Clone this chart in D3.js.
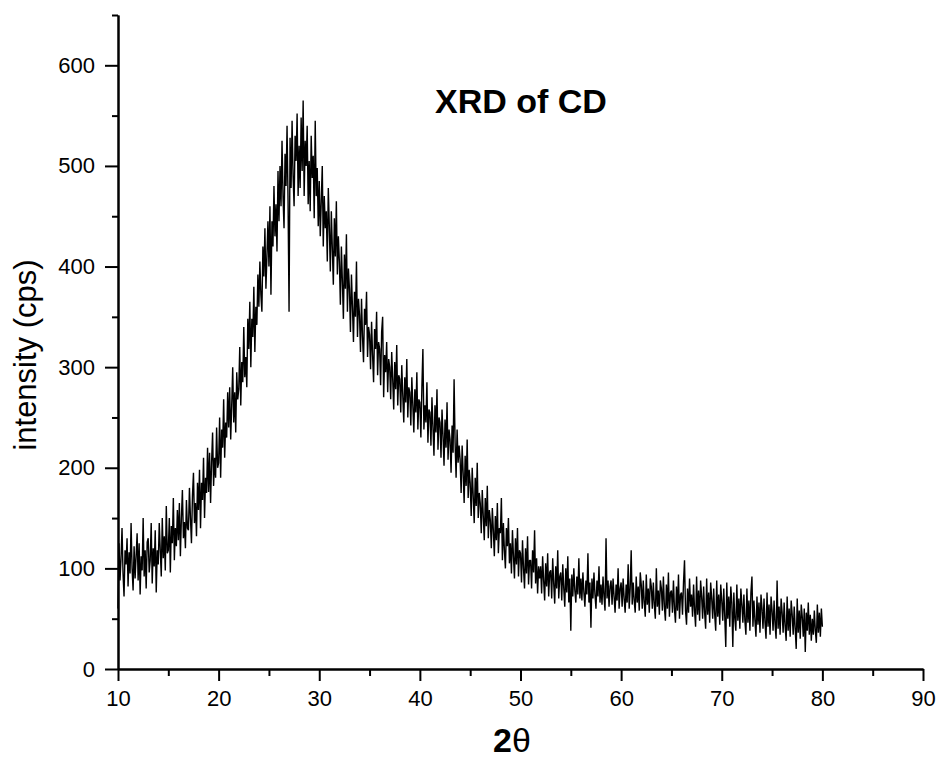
<!DOCTYPE html>
<meta charset="utf-8">
<script src="https://d3js.org/d3.v7.min.js"></script>
<style>
  body { margin: 0; background: #fff; }
  text { font-family: Arial, "Liberation Sans", sans-serif; }
</style>
<div id="chart"></div>
<script>

    // 2theta scan: first angle and step (deg)
    const twoThetaStart = 10,
        twoThetaStep = 0.1;

    // intensity (cps), one row per degree
    const intensity = [
        60, 125, 88, 110, 140, 95, 72, 118, 104, 130,
        82, 116, 95, 145, 100, 78, 122, 90, 112, 135,
        88, 125, 74, 112, 98, 150, 92, 118, 80, 126,
        130, 96, 108, 145, 85, 120, 102, 138, 76, 118,
        104, 145, 118, 92, 150, 110, 132, 98, 162, 115,
        118, 150, 96, 142, 125, 170, 108, 140, 122, 158,
        128, 165, 112, 150, 178, 130, 146, 120, 168, 140,
        138, 180, 150, 125, 172, 195, 145, 165, 132, 185,
        158, 198, 140, 185, 168, 210, 150, 190, 175, 220,
        176, 215, 165, 205, 235, 182, 210, 190, 240, 200,
        205, 250, 190, 238, 220, 268, 210, 245, 230, 275,
        240, 280, 228, 262, 300, 245, 275, 235, 295, 268,
        278, 320, 262, 305, 285, 340, 290, 310, 280, 348,
        318, 365, 300, 348, 330, 380, 315, 360, 342, 392,
        360, 405, 372, 355, 420, 390, 438, 378, 410, 445,
        400, 460, 372, 445, 420, 480, 430, 462, 415, 495,
        445, 500, 460, 525, 470, 438, 512, 480, 540, 465,
        355, 528, 478, 545, 490, 460, 530, 505, 552, 470,
        520, 478, 548, 495, 565, 470, 525, 500, 540, 462,
        505, 455, 530, 488, 510, 448, 545, 470, 498, 440,
        485, 430, 465, 500, 420, 470, 438, 455, 405, 478,
        440, 395, 455, 418, 382, 448, 410, 465, 392, 430,
        405, 362, 420, 385, 348, 412, 378, 432, 355, 398,
        378, 335, 392, 360, 325, 375, 350, 405, 330, 368,
        352, 315, 368, 330, 305, 358, 342, 375, 310, 340,
        332, 298, 345, 312, 285, 338, 318, 355, 292, 325,
        318, 282, 335, 350, 270, 312, 295, 325, 275, 308,
        300, 268, 315, 288, 258, 305, 278, 322, 262, 292,
        288, 255, 302, 272, 245, 290, 265, 308, 250, 280,
        275, 242, 290, 262, 235, 278, 255, 295, 238, 268,
        265, 230, 280, 318, 238, 262, 245, 285, 225, 258,
        255, 222, 270, 240, 212, 262, 235, 278, 218, 250,
        245, 210, 258, 232, 202, 248, 220, 265, 208, 238,
        228, 195, 242, 215, 288, 225, 190, 238, 205, 222,
        208, 175, 222, 195, 165, 212, 182, 228, 170, 198,
        185, 152, 200, 172, 145, 190, 162, 205, 150, 175,
        165, 135, 178, 152, 128, 170, 142, 182, 130, 158,
        148, 120, 160, 138, 112, 152, 128, 165, 115, 140,
        135, 170, 108, 145, 118, 100, 140, 122, 150, 105,
        125, 95, 138, 112, 90, 130, 104, 140, 92, 118,
        115, 86, 128, 100, 80, 120, 95, 132, 84, 108,
        108, 80, 118, 96, 138, 85, 110, 75, 102, 90,
        102, 75, 112, 88, 68, 105, 82, 115, 72, 96,
        98, 70, 110, 85, 65, 102, 80, 118, 70, 92,
        96, 68, 104, 80, 62, 100, 76, 112, 66, 90,
        38, 94, 72, 100, 78, 66, 92, 74, 110, 70,
        90, 68, 96, 76, 62, 88, 74, 115, 66, 86,
        41, 90, 70, 96, 74, 60, 88, 72, 102, 66,
        84, 64, 92, 72, 58, 130, 70, 88, 62, 82,
        88, 64, 90, 72, 56, 84, 68, 100, 60, 80,
        86, 62, 90, 70, 56, 84, 66, 104, 60, 80,
        118, 64, 86, 68, 56, 92, 66, 82, 58, 96,
        84, 60, 88, 66, 52, 94, 64, 80, 56, 90,
        82, 60, 86, 64, 50, 100, 62, 78, 54, 88,
        80, 58, 92, 62, 48, 84, 60, 96, 52, 76,
        78, 56, 88, 60, 46, 82, 58, 94, 50, 74,
        76, 54, 86, 108, 58, 44, 80, 56, 90, 62,
        74, 52, 84, 58, 42, 92, 54, 78, 48, 88,
        72, 50, 82, 56, 40, 90, 54, 76, 46, 86,
        70, 50, 80, 54, 38, 88, 52, 74, 44, 84,
        68, 48, 80, 52, 22, 86, 50, 72, 42, 82,
        66, 22, 76, 50, 38, 84, 48, 70, 40, 80,
        64, 46, 74, 48, 34, 80, 46, 68, 38, 76,
        92, 42, 68, 48, 32, 72, 44, 66, 36, 74,
        60, 40, 70, 46, 30, 76, 42, 64, 34, 72,
        58, 38, 68, 44, 30, 88, 40, 62, 34, 70,
        56, 36, 66, 42, 28, 72, 38, 60, 32, 68,
        54, 34, 62, 40, 20, 70, 36, 58, 30, 64,
        52, 32, 60, 17, 56, 38, 66, 34, 54, 28,
        50, 34, 58, 38, 26, 64, 36, 56, 32, 60,
        42
    ];

    const xTicks = [10, 20, 30, 40, 50, 60, 70, 80, 90];
    const xMinorTicks = [15, 25, 35, 45, 55, 65, 75, 85];
    const yTicks = [0, 100, 200, 300, 400, 500, 600];
    const yMinorTicks = [50, 150, 250, 350, 450, 550, 650];

    const width = 941, height = 761;
    const margin = { top: 15, right: 18, bottom: 92, left: 118 };

    const svg = d3.select("#chart")
        .append("svg")
        .attr("width", width)
        .attr("height", height);

    const x = d3.scaleLinear()
        .domain([10, 90])
        .range([margin.left, width - margin.right]);

    const y = d3.scaleLinear()
        .domain([0, 650])
        .range([height - margin.bottom, margin.top]);

    const data = intensity.map((v, i) => ({ t: twoThetaStart + i * twoThetaStep, v: v }));

    // the scan
    const line = d3.line()
        .x(d => x(d.t))
        .y(d => y(d.v));

    svg.append("path")
        .datum(data)
        .attr("fill", "none")
        .attr("stroke", "#000")
        .attr("stroke-width", 1.4)
        .attr("stroke-linejoin", "bevel")
        .attr("d", line);

    // X axis, major + minor ticks
    const xAxisG = svg.append("g")
        .attr("transform", "translate(0," + y(0) + ")");
    xAxisG.append("g")
        .call(d3.axisBottom(x).tickValues(xMinorTicks).tickSize(7).tickSizeOuter(0).tickFormat(""));
    xAxisG.append("g")
        .call(d3.axisBottom(x).tickValues(xTicks).tickSize(12).tickSizeOuter(0).tickPadding(9))
        .selectAll("text")
        .attr("font-size", "22px")
        .attr("fill", "#000");

    // Y axis, major + minor ticks
    const yAxisG = svg.append("g")
        .attr("transform", "translate(" + x(10) + ",0)");
    yAxisG.append("g")
        .call(d3.axisLeft(y).tickValues(yMinorTicks).tickSize(6).tickSizeOuter(0).tickFormat(""));
    yAxisG.append("g")
        .call(d3.axisLeft(y).tickValues(yTicks).tickSize(13).tickSizeOuter(0).tickPadding(10))
        .selectAll("text")
        .attr("font-size", "22px")
        .attr("fill", "#000");

    svg.selectAll(".domain, .tick line")
        .attr("stroke", "#000")
        .attr("stroke-width", 2);

    // titles
    svg.append("text")
        .attr("x", 435)
        .attr("y", 113)
        .attr("font-size", "34px")
        .attr("font-weight", "bold")
        .text("XRD of CD");

    svg.append("text")
        .attr("transform", "translate(36,355) rotate(-90)")
        .attr("text-anchor", "middle")
        .attr("font-size", "31px")
        .text("intensity (cps)");

    const xTitle = svg.append("text")
        .attr("x", 512)
        .attr("y", 752)
        .attr("text-anchor", "middle")
        .attr("font-size", "34px");
    xTitle.append("tspan").attr("font-weight", "bold").text("2");
    xTitle.append("tspan").text("θ");

</script>
